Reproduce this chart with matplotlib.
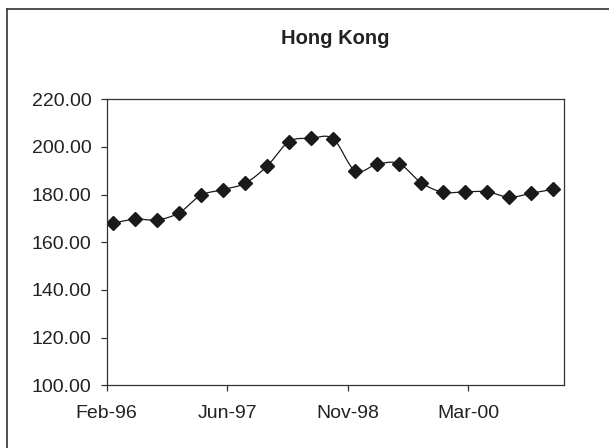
import numpy as np
import matplotlib
matplotlib.use('Agg')
import matplotlib.pyplot as plt
import matplotlib.dates as mdates
from matplotlib.lines import Line2D
from datetime import date

matplotlib.rcParams['font.family'] = ['Liberation Sans', 'DejaVu Sans']

# quarterly observations
dates = [date(1996 + (m // 12), m % 12 + 1, 12) for m in range(2, 63, 3)]
values = [168.0, 169.7, 169.4, 172.4, 179.7, 182.1, 184.8, 192.0, 202.2, 203.6, 203.4,
          190.0, 192.7, 193.0, 185.0, 181.0, 181.2, 181.2, 178.9, 180.6, 182.2]

axis_start = date(1996, 2, 15)
axis_days = 1899
tick_step = 500
y_ticks = [100, 120, 140, 160, 180, 200, 220]


def smooth(x, y, n=30):
    # Excel-like smoothed line (cardinal bezier through the points)
    x = np.asarray(x, float)
    y = np.asarray(y, float)
    px = np.concatenate([[x[0]], x, [x[-1]]])
    py = np.concatenate([[y[0]], y, [y[-1]]])
    xs, ys = [], []
    t = np.linspace(0, 1, n)
    for i in range(1, len(px) - 2):
        p0 = np.array([px[i], py[i]])
        p3 = np.array([px[i + 1], py[i + 1]])
        p1 = p0 + (np.array([px[i + 1], py[i + 1]]) - np.array([px[i - 1], py[i - 1]])) / 6
        p2 = p3 - (np.array([px[i + 2], py[i + 2]]) - np.array([px[i], py[i]])) / 6
        b = ((1 - t) ** 3)[:, None] * p0 + (3 * (1 - t) ** 2 * t)[:, None] * p1 \
            + (3 * (1 - t) * t ** 2)[:, None] * p2 + (t ** 3)[:, None] * p3
        xs.extend(b[:, 0])
        ys.extend(b[:, 1])
    return np.array(xs), np.array(ys)


fig = plt.figure(figsize=(6.09, 4.48), dpi=100)
ax = fig.add_axes([0.1752, 0.1400, 0.7514, 0.6384])

xnum = mdates.date2num(dates)
sx, sy = smooth(xnum, values)
ax.plot(sx, sy, color='#1a1a1a', linewidth=0.9)
ax.plot(xnum, values, linestyle='none', marker='D', markersize=7.3,
        color='#1a1a1a', markeredgecolor='#1a1a1a')

x0 = mdates.date2num(axis_start)
ax.set_xlim(x0, x0 + axis_days)
ax.set_xticks([x0 + k for k in range(0, axis_days, tick_step)])
ax.xaxis.set_major_formatter(mdates.DateFormatter('%b-%y'))
ax.set_ylim(100, 220)
ax.set_yticks(y_ticks)
ax.set_yticklabels(['%.2f' % v for v in y_ticks])

for s in ax.spines.values():
    s.set_color('#333333')
    s.set_linewidth(0.9)
ax.tick_params(axis='both', direction='out', length=4.5, width=0.9,
               color='#333333', labelsize=14, labelcolor='#222222')
ax.tick_params(axis='y', pad=6.5)
ax.tick_params(axis='x', pad=10)

fig.text(0.551, 0.915, 'Hong Kong', ha='center', va='center',
         fontsize=14.5, fontweight='bold', color='#222222')

# chart area border (only top and left edges visible)
fig.add_artist(Line2D([0.012, 0.012], [0, 0.979], color='#333333', linewidth=1.2))
fig.add_artist(Line2D([0.012, 1], [0.979, 0.979], color='#333333', linewidth=1.2))

fig.savefig('out.png', dpi=100)
